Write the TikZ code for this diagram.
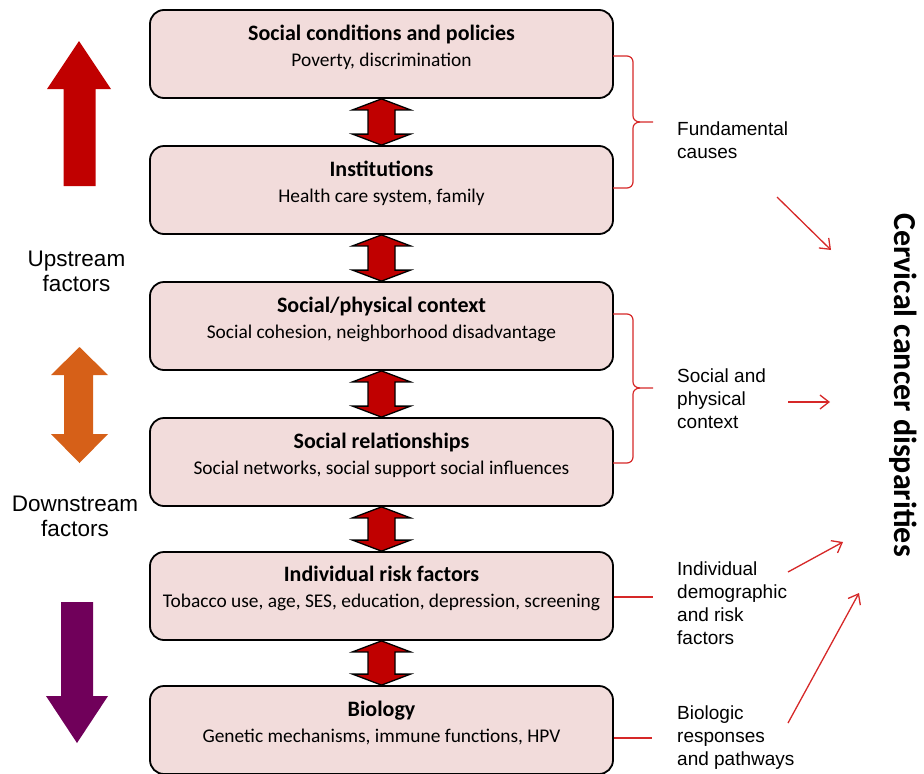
\documentclass[tikz,border=0pt]{standalone}
\usepackage{fontspec}
\setmainfont{Carlito}
\newfontfamily\arialf{Liberation Sans}
\usetikzlibrary{arrows.meta,calc}
\definecolor{boxfill}{RGB}{242,220,219}
\definecolor{darkred}{RGB}{192,0,0}
\definecolor{orangearr}{RGB}{214,96,24}
\definecolor{purplearr}{RGB}{112,0,90}
\definecolor{linered}{RGB}{214,40,40}
\newcommand\dblarrow[2]{%
  \draw[dbl] let \p1=(#1.south), \p2=(#2.north) in
    (\x1,\y1) -- (\x1+29pt,\y1-11pt) -- (\x1+13.5pt,\y1-11pt) -- (\x1+13.5pt,\y2+11pt)
    -- (\x1+29pt,\y2+11pt) -- (\x1,\y2) -- (\x1-29pt,\y2+11pt) -- (\x1-13.5pt,\y2+11pt)
    -- (\x1-13.5pt,\y1-11pt) -- (\x1-29pt,\y1-11pt) -- cycle;}
\begin{document}
\begin{tikzpicture}[x=1pt,y=-1pt,
  box/.style={draw=black, line width=1.8pt, fill=boxfill, rounded corners=14pt, minimum width=463pt, minimum height=88pt, inner sep=0pt},
  ttl/.style={font=\fontsize{22}{26}\selectfont\bfseries, anchor=base, inner sep=0pt},
  sub/.style={font=\fontsize{19.4}{23}\selectfont, anchor=base, inner sep=0pt},
  lbl/.style={font=\arialf\fontsize{19}{22.7}\selectfont, align=left, anchor=base west, inner sep=0pt},
  side/.style={font=\arialf\fontsize{22.5}{24.5}\selectfont, align=center, anchor=base, inner sep=0pt},
  dbl/.style={draw=black, line width=1.3pt, fill=darkred, line join=miter},
  bracket/.style={draw=linered, line width=1.2pt},
  rarr/.style={draw=linered, line width=1.3pt, -{Straight Barb[length=9pt,width=14pt]}},
]
\useasboundingbox (0,0) rectangle (924,774);

% boxes
\node[box] (b1) at (381.5,54) {};
\node[box] (b2) at (381.5,190) {};
\node[box] (b3) at (381.5,326) {};
\node[box] (b4) at (381.5,462) {};
\node[box] (b5) at (381.5,596) {};
\node[box] (b6) at (381.5,730) {};

\node[ttl] (t1) at (381.5,40) {Social conditions and policies};
\node[sub] (s1) at (381.5,66) {Poverty, discrimination};
\node[ttl] (t2) at (381.5,176) {Institutions};
\node[sub] (s2) at (381.5,202) {Health care system, family};
\node[ttl] (t3) at (381.5,312) {Social/physical context};
\node[sub] (s3) at (381.5,338) {Social cohesion, neighborhood disadvantage};
\node[ttl] (t4) at (381.5,448) {Social relationships};
\node[sub] (s4) at (381.5,474) {Social networks, social support social influences};
\node[ttl] (t5) at (381.5,581) {Individual risk factors};
\node[sub] (s5) at (381.5,607) {Tobacco use, age, SES, education, depression, screening};
\node[ttl] (t6) at (381.5,716) {Biology};
\node[sub] (s6) at (381.5,742) {Genetic mechanisms, immune functions, HPV};

% double arrows between boxes
\dblarrow{b1}{b2}
\dblarrow{b2}{b3}
\dblarrow{b3}{b4}
\dblarrow{b4}{b5}
\dblarrow{b5}{b6}

% left arrows
\fill[darkred] (79,41) -- (111,89) -- (95.5,89) -- (95.5,186) -- (63.5,186) -- (63.5,89) -- (47,89) -- cycle;
\fill[orangearr] (79.5,347) -- (108,375) -- (93,375) -- (93,434) -- (108,434) -- (79.5,463) -- (51,434) -- (64,434) -- (64,375) -- (51,375) -- cycle;
\fill[purplearr] (61,602) -- (93,602) -- (93,696) -- (108,696) -- (77,743) -- (46,696) -- (61,696) -- cycle;

\node[side] (up) at (76.5,291) {Upstream\\factors};
\node[side] (down) at (75,536) {Downstream\\factors};

% braces
\draw[bracket] (613,56) -- (627,56) to[out=0,in=90] (633,62) -- (633,116) to[out=-90,in=180] (640,122) -- (653,122);
\draw[bracket] (640,122) to[out=180,in=90] (633,128) -- (633,182) to[out=-90,in=0] (627,188) -- (613,188);
\draw[bracket] (613,314) -- (627,314) to[out=0,in=90] (633,320) -- (633,382) to[out=-90,in=180] (640,388) -- (653,388);
\draw[bracket] (640,388) to[out=180,in=90] (633,394) -- (633,457) to[out=-90,in=0] (627,463) -- (613,463);
\coordinate (l5) at (653,597);
\coordinate (l6) at (652,738);
\draw[bracket] (b5.east |- l5) -- (l5);
\draw[bracket] (b6.east |- l6) -- (l6);

% labels
\node[lbl] (fc) at (677,158) {Fundamental\\causes};
\node[lbl] (spc) at (677,428) {Social and\\physical\\context};
\node[lbl] (idr) at (677,644) {Individual\\demographic\\and risk\\factors};
\node[lbl] (brp) at (677,765) {Biologic\\responses\\and pathways};

% title
\node[rotate=-90, anchor=base, inner sep=0pt, font=\bfseries\fontsize{32}{32}\selectfont] (title) at (894,385) {Cervical cancer disparities};

% red arrows
\coordinate (a1s) at (777,197); \coordinate (a1e) at (831,250);
\coordinate (a2s) at (788,402); \coordinate (a2e) at (830,402);
\coordinate (a3s) at (788,572); \coordinate (a3e) at (843,542);
\coordinate (a4s) at (788,723); \coordinate (a4e) at (859,593);
\draw[rarr] (a1s) -- (a1e);
\draw[rarr] (a2s) -- (a2e);
\draw[rarr] (a3s) -- (a3e);
\draw[rarr] (a4s) -- (a4e);
\end{tikzpicture}
\end{document}
